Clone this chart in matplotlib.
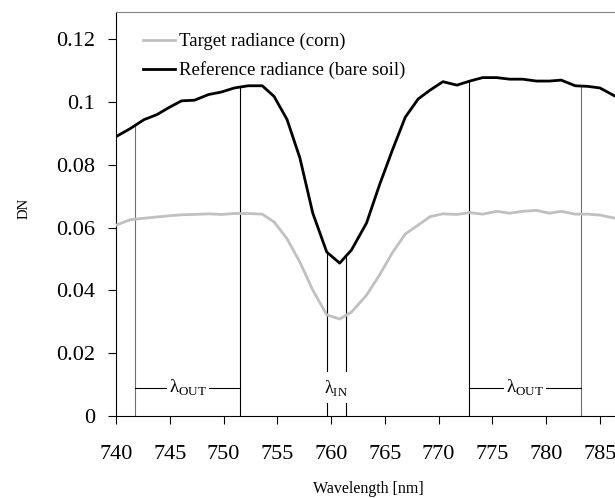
import matplotlib
matplotlib.use("Agg")
import matplotlib.pyplot as plt
import numpy as np
from matplotlib.ticker import FormatStrFormatter

plt.rcParams['font.family'] = ['Liberation Serif', 'DejaVu Serif']
plt.rcParams['mathtext.fontset'] = 'custom'
plt.rcParams['mathtext.rm'] = 'Liberation Serif'

# spectra around the O2-A band
wavelength = [740.0, 741.3, 742.6, 743.8, 745.0, 746.1, 747.3, 748.6, 749.8, 751.0,
              752.3, 753.6, 754.7, 755.9, 757.1, 758.3, 759.6, 760.8, 761.9, 763.3,
              764.5, 765.7, 766.9, 768.1, 769.2, 770.4, 771.7, 772.9, 774.1, 775.4,
              776.6, 777.8, 779.1, 780.3, 781.4, 782.7, 783.9, 785.0, 786.4]
target = [0.0608, 0.0625, 0.0630, 0.0634, 0.0638, 0.0641, 0.0642, 0.0644, 0.0642, 0.0645,
          0.0645, 0.0643, 0.0618, 0.0565, 0.0490, 0.0401, 0.0322, 0.0309, 0.0331, 0.0385,
          0.0449, 0.0520, 0.0580, 0.0608, 0.0635, 0.0644, 0.0642, 0.0648, 0.0643, 0.0652,
          0.0646, 0.0652, 0.0655, 0.0646, 0.0652, 0.0643, 0.0643, 0.0640, 0.0630]
reference = [0.0890, 0.0915, 0.0944, 0.0960, 0.0984, 0.1004, 0.1006, 0.1024, 0.1032, 0.1045,
             0.1052, 0.1052, 0.1018, 0.0945, 0.0822, 0.0646, 0.0522, 0.0487, 0.0529, 0.0615,
             0.0736, 0.0847, 0.0952, 0.1010, 0.1038, 0.1065, 0.1054, 0.1067, 0.1078, 0.1078,
             0.1073, 0.1073, 0.1067, 0.1067, 0.1070, 0.1052, 0.1050, 0.1045, 0.1019]

# window edges (nm)
out_left = [741.8, 751.55]
in_band = [759.6, 761.35]
out_right = [772.8, 783.2]
bar_y = 0.009

fig = plt.figure(figsize=(6.15, 4.98), dpi=100)
ax = fig.add_axes([0.1886, 0.1647, 0.8114, 0.8112])

ax.plot(wavelength, target, color='#c0c0c0', lw=2.0, label='Target radiance (corn)', zorder=3)
ax.plot(wavelength, reference, color='black', lw=2.0, label='Reference radiance (bare soil)', zorder=3)

# vertical markers up to the reference curve
edges = [(out_left[0], '#707070'), (out_left[1], 'black'),
         (in_band[0], 'black'), (in_band[1], 'black'),
         (out_right[0], 'black'), (out_right[1], '#707070')]
for x, c in edges:
    ax.plot([x, x], [0, np.interp(x, wavelength, reference)], color=c, lw=0.8, zorder=2)

for a, b in (out_left, out_right):
    ax.plot([a, b], [bar_y, bar_y], color='black', lw=0.8, zorder=2)
    ax.text((a + b) / 2, bar_y, r'λ$_{\mathrm{OUT}}$', ha='center', va='center', fontsize=13.5,
            bbox=dict(boxstyle='square,pad=0.1', fc='white', ec='none'), zorder=4)
ax.text(sum(in_band) / 2, bar_y, r'λ$_{\mathrm{IN}}$', ha='center', va='center', fontsize=13,
        bbox=dict(boxstyle='square,pad=0.3', fc='white', ec='none'), zorder=4)

ax.set_xlim(740, 786.4)
ax.set_ylim(0, 0.1287)
ax.set_xticks(np.arange(740, 786, 5))
ax.set_yticks(np.arange(0, 0.121, 0.02))
ax.yaxis.set_major_formatter(FormatStrFormatter('%g'))
ax.tick_params(axis='both', direction='out', length=6, width=0.8, labelsize=16)
ax.tick_params(axis='x', pad=15)
ax.tick_params(axis='y', pad=9)
ax.spines['right'].set_visible(False)
ax.spines['top'].set_color('#808080')

ax.set_xlabel('Wavelength [nm]', fontsize=11.5)
ax.xaxis.set_label_coords(0.506, -0.16)
ax.set_ylabel('DN', fontsize=10.5)
ax.yaxis.set_label_coords(-0.172, 0.515)

ax.legend(loc='upper left', bbox_to_anchor=(0.054, 0.948), frameon=False, fontsize=13.5,
          handlelength=1.7, handletextpad=0.2, labelspacing=0.58, borderaxespad=0, borderpad=0)

fig.savefig('out.png', dpi=100)
